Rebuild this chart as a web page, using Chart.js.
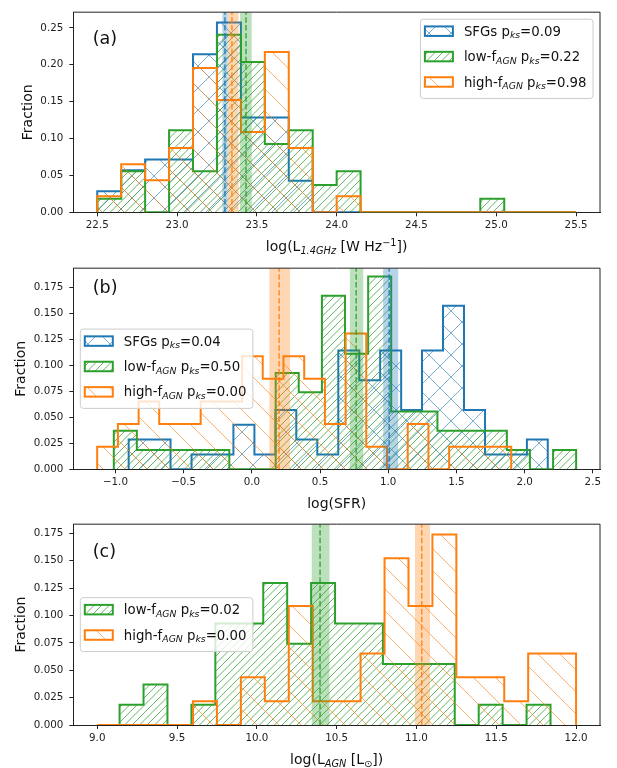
<!DOCTYPE html>
<html><head><meta charset="utf-8">
<script src="https://cdn.jsdelivr.net/npm/chart.js@4.4.1/dist/chart.umd.min.js"></script>
<style>
html,body{margin:0;padding:0;background:#fff;}
#wrap{position:relative;width:617px;height:768px;overflow:hidden;}
.pc{position:absolute;left:0;width:617px;height:256px;}
</style></head><body>
<div id="wrap">
<div class="pc" style="top:0px"><canvas id="ca"></canvas></div>
<div class="pc" style="top:256px"><canvas id="cb"></canvas></div>
<div class="pc" style="top:512px"><canvas id="cc"></canvas></div>
</div>
<script>
// ================= DATA =================
// Panel (a): log(L1.4GHz) distributions (fraction per bin)
const aEdges = [22.50,22.65,22.80,22.95,23.10,23.25,23.40,23.55,23.70,23.85,24.00,24.15,24.30,24.45,24.60,24.75,24.90,25.05,25.20,25.35,25.50];
const aSFG  = [0.0286,0.0571,0.0714,0.0714,0.2143,0.2571,0.1286,0.1286,0.0429,0,0,0,0,0,0,0,0,0,0,0];
const aLow  = [0.0185,0.0556,0,0.1111,0.0556,0.2407,0.2037,0.0926,0.1111,0.0370,0.0556,0,0,0,0,0,0.0185,0,0,0];
const aHigh = [0.0217,0.0652,0.0435,0.0870,0.1957,0.1522,0.1087,0.2174,0.0870,0,0.0217,0,0,0,0,0,0,0,0,0];
const aMedian = [23.300, 23.432, 23.344];   // SFGs, low-fAGN, high-fAGN
const aMedLo  = [23.284, 23.395, 23.318];
const aMedHi  = [23.317, 23.468, 23.385];
const aPks = ['0.09','0.22','0.98'];
const aXTicks = ['22.5','23.0','23.5','24.0','24.5','25.0','25.5'];
const aYTicks = ['0.00','0.05','0.10','0.15','0.20','0.25'];

// Panel (b): log(SFR)
const bEdgesSFG  = [-0.903,-0.749,-0.596,-0.442,-0.288,-0.135,0.019,0.173,0.326,0.480,0.634,0.788,0.941,1.095,1.248,1.402,1.556,1.710,1.863,2.017,2.170];
const bEdgesLow  = [-1.012,-0.843,-0.673,-0.504,-0.334,-0.165,0.005,0.175,0.344,0.514,0.683,0.853,1.022,1.192,1.361,1.531,1.700,1.870,2.039,2.209,2.378];
const bEdgesHigh = [-1.134,-0.982,-0.830,-0.679,-0.527,-0.375,-0.223,-0.071,0.080,0.232,0.384,0.536,0.688,0.839,0.991,1.143,1.295,1.447,1.598,1.750,1.902];
const bSFG  = [0.0286,0.0286,0,0.0143,0.0143,0.0429,0.0143,0.0571,0.0286,0.0143,0.1143,0.0857,0.1143,0.0571,0.1143,0.1571,0.0571,0.0143,0.0143,0.0286];
const bLow  = [0.0370,0.0185,0.0185,0.0185,0.0185,0,0,0.0926,0.0741,0.1667,0.1111,0.1852,0.0556,0.0556,0.0370,0.0370,0.0370,0.0185,0,0.0185];
const bHigh = [0.0217,0.0435,0.0652,0.0435,0.0435,0.0652,0.0652,0.1087,0.0870,0.1087,0.0870,0.0435,0.1304,0.0217,0,0.0435,0,0.0217,0.0217,0.0217];
const bMedian = [1.007, 0.765, 0.200];
const bMedLo  = [0.963, 0.719, 0.129];
const bMedHi  = [1.073, 0.817, 0.280];
const bPks = ['0.04','0.50','0.00'];
const bXTicks = ['\u22121.0','\u22120.5','0.0','0.5','1.0','1.5','2.0','2.5'];
const bYTicks = ['0.000','0.025','0.050','0.075','0.100','0.125','0.150','0.175'];

// Panel (c): log(L_AGN)
const cEdgesLow  = [9.14,9.29,9.44,9.59,9.74,9.89,10.04,10.19,10.34,10.49,10.64,10.79,10.94,11.09,11.24,11.39,11.54,11.69,11.84];
const cEdgesHigh = [9.00,9.15,9.30,9.45,9.60,9.75,9.90,10.05,10.20,10.35,10.50,10.65,10.80,10.95,11.10,11.25,11.40,11.55,11.70,11.85,12.00];
const cLow  = [0.0185,0.0370,0,0.0185,0.0926,0.0926,0.1296,0.0741,0.1296,0.0926,0.0926,0.0556,0.0556,0.0556,0,0.0185,0,0.0185];
const cHigh = [0,0,0,0,0.0217,0,0.0435,0.0217,0.1087,0.0217,0.0217,0.0652,0.1522,0.1087,0.1739,0.0435,0.0435,0.0217,0.0652,0.0652];
const cMedian = [10.396, 11.033];   // low-fAGN, high-fAGN
const cMedLo  = [10.344, 10.991];
const cMedHi  = [10.455, 11.085];
const cPks = ['0.02','0.00'];
const cXTicks = ['9.0','9.5','10.0','10.5','11.0','11.5','12.0'];
const cYTicks = ['0.000','0.025','0.050','0.075','0.100','0.125','0.150','0.175'];

// ================= STYLE / HELPERS =================
const FONT = '"DejaVu Sans", "Liberation Sans", sans-serif';
const C_BLUE = [31,119,180], C_GREEN = [44,160,44], C_ORANGE = [255,127,14];
const rgba = (c,a)=>`rgba(${c[0]},${c[1]},${c[2]},${a})`;
Chart.defaults.font.family = FONT;

function makePattern(ctx, kind, color, d, T){
  const cv = document.createElement('canvas'); cv.width = T; cv.height = T;
  const g = cv.getContext('2d'); g.strokeStyle = color; g.lineWidth = 1;
  g.beginPath();
  if (kind === '/' || kind === 'x'){
    for (let k = -3; k*d <= 3*T; k++){ const cc = k*d; g.moveTo(cc+T,-T); g.lineTo(cc-2*T,2*T); }
  }
  if (kind === '\\' || kind === 'x'){
    for (let k = Math.floor(-3*T/d); k*d <= 3*T; k++){ const cc = k*d; g.moveTo(cc-T,-T); g.lineTo(cc+2*T,2*T); }
  }
  g.stroke();
  return ctx.createPattern(cv, 'repeat');
}
function patterns(ctx){
  return {
    blue:   makePattern(ctx, 'x',  rgba(C_BLUE,0.6), 22, 22),
    green:  makePattern(ctx, '/',  rgba(C_GREEN,0.75), 7.5, 15),
    orange: makePattern(ctx, '\\', rgba(C_ORANGE,0.6), 22, 22)
  };
}
function stepPoints(edges, vals){
  const p = [{x: edges[0], y: 0}];
  vals.forEach((v,i)=>p.push({x: edges[i], y: v}));
  p.push({x: edges[edges.length-1], y: 0});
  return p;
}
function histDataset(edges, vals, col, pat, order){
  return {data: stepPoints(edges, vals), stepped: 'before', fill: 'origin',
    backgroundColor: pat, borderColor: rgba(col,1), borderWidth: 2, pointRadius: 0,
    pointHoverRadius: 0, tension: 0, order: order, borderJoinStyle: 'miter'};
}
function fontFor(seg, size){
  const small = seg[1] === 'sub' || seg[1] === 'sup';
  const it = seg[1] === 'sub';
  return (it ? 'italic ' : '') + (small ? size*0.7 : size) + 'px ' + FONT;
}
function drawRich(ctx, segs, x, baseY, size, align){
  let total = 0;
  segs.forEach(s=>{ ctx.font = fontFor(s,size); total += ctx.measureText(s[0]).width; });
  let cx = align === 'center' ? x - total/2 : x;
  ctx.textAlign = 'left'; ctx.textBaseline = 'alphabetic';
  segs.forEach(s=>{
    ctx.font = fontFor(s,size);
    const dy = s[1] === 'sub' ? size*0.2 : (s[1] === 'sup' ? -size*0.4 : 0);
    ctx.fillText(s[0], cx, baseY + dy);
    cx += ctx.measureText(s[0]).width;
  });
}
const lowLabel  = p => [['low-f',''],['AGN','sub'],[' p',''],['ks','sub'],['='+p,'']];
const highLabel = p => [['high-f',''],['AGN','sub'],[' p',''],['ks','sub'],['='+p,'']];
const sfgLabel  = p => [['SFGs p',''],['ks','sub'],['='+p,'']];

const decor = {
  id: 'decor',
  afterDatasetsDraw(chart){
    const o = chart.options.plugins.decor, ctx = chart.ctx, ca = chart.chartArea, xs = chart.scales.x;
    ctx.save();
    ctx.beginPath(); ctx.rect(ca.left, ca.top, ca.right-ca.left, ca.bottom-ca.top); ctx.clip();
    o.bands.forEach(b=>{
      const x0 = xs.getPixelForValue(b.lo), x1 = xs.getPixelForValue(b.hi), xm = xs.getPixelForValue(b.med);
      ctx.fillStyle = rgba(b.col, 0.32); ctx.fillRect(x0, ca.top, x1-x0, ca.bottom-ca.top);
      ctx.strokeStyle = rgba(b.col, 0.85); ctx.lineWidth = 1.5; ctx.setLineDash([5.5,2.4]);
      ctx.beginPath(); ctx.moveTo(xm, ca.bottom); ctx.lineTo(xm, ca.top); ctx.stroke();
      ctx.setLineDash([]);
    });
    ctx.restore();
  },
  afterDraw(chart){
    const o = chart.options.plugins.decor, ctx = chart.ctx, ca = chart.chartArea;
    ctx.save();
    // top & right spines
    ctx.strokeStyle = '#222'; ctx.lineWidth = 1;
    ctx.beginPath(); ctx.moveTo(ca.left, ca.top); ctx.lineTo(ca.right, ca.top); ctx.lineTo(ca.right, ca.bottom); ctx.stroke();
    ctx.fillStyle = '#111';
    // panel label
    ctx.font = '17.5px ' + FONT; ctx.textAlign = 'left'; ctx.textBaseline = 'middle';
    ctx.fillText(o.panel, ca.left + 19.4, ca.top + o.panelDy);
    // y title
    ctx.save(); ctx.translate(o.yTitleX, (ca.top+ca.bottom)/2); ctx.rotate(-Math.PI/2);
    ctx.font = '14px ' + FONT; ctx.textAlign = 'center'; ctx.textBaseline = 'middle';
    ctx.fillText('Fraction', 0, 0); ctx.restore();
    // x title
    drawRich(ctx, o.xTitle, (ca.left+ca.right)/2, ca.bottom + 39, 14, 'center');
    // legend
    const L = o.legend, n = L.rows.length, w = 172.6, h = 12 + (n-1)*25.4 + 16.5;
    let bx, by;
    if (L.anchor === 'ur'){ bx = ca.right - 7 - w; by = ca.top + 7; }
    else { bx = ca.left + 7; by = (ca.top+ca.bottom)/2 - h/2; }
    ctx.beginPath();
    if (ctx.roundRect) ctx.roundRect(bx, by, w, h, 3); else ctx.rect(bx, by, w, h);
    ctx.fillStyle = 'rgba(255,255,255,0.8)'; ctx.fill();
    ctx.strokeStyle = '#cccccc'; ctx.lineWidth = 1; ctx.stroke();
    L.rows.forEach((r,i)=>{
      const ry = by + 12 + i*25.4;
      ctx.fillStyle = r.pat; ctx.fillRect(bx+4.5, ry-4.75, 28, 9.5);
      ctx.strokeStyle = rgba(r.col,1); ctx.lineWidth = 2; ctx.strokeRect(bx+4.5, ry-4.75, 28, 9.5);
      ctx.fillStyle = '#111';
      drawRich(ctx, r.segs, bx + 43.5, ry + 4.6, 13.3, 'left');
    });
    ctx.restore();
  }
};

function tickVals(labels){ return labels.map(s=>parseFloat(s.replace('\u2212','-'))); }

function makeChart(id, cfg){
  const canvas = document.getElementById(id);
  const ctx = canvas.getContext('2d');
  const P = patterns(ctx);
  const datasets = cfg.series.map(s=>histDataset(s.edges, s.vals, s.col, P[s.pat], s.order));
  const xv = tickVals(cfg.xTicks), yv = tickVals(cfg.yTicks);
  const rows = cfg.legend.map(r=>({col: r.col, pat: P[r.pat], segs: r.segs}));
  return new Chart(ctx, {
    type: 'line',
    data: {datasets},
    options: {
      responsive: true, maintainAspectRatio: false, animation: false, devicePixelRatio: 1,
      layout: {padding: {left: 0, right: 17, top: cfg.padTop, bottom: 0}},
      events: [],
      plugins: {legend: {display: false}, tooltip: {enabled: false},
        decor: {panel: cfg.panel, panelDy: cfg.panelDy, yTitleX: cfg.yTitleX, xTitle: cfg.xTitle,
          bands: cfg.bands, legend: {anchor: cfg.legendAnchor, rows}}},
      scales: {
        x: {type: 'linear', min: cfg.xMin, max: cfg.xMax,
          afterBuildTicks: ax=>{ ax.ticks = xv.map(v=>({value: v})); },
          afterFit: s=>{ s.height = cfg.xAxisH; },
          ticks: {callback: (v,i)=>cfg.xTicks[i], autoSkip: false, maxRotation: 0, color: '#222',
            font: {size: 10.3, family: FONT}, padding: 3},
          grid: {drawOnChartArea: false, drawTicks: true, tickLength: 4, color: '#222', tickColor: '#222'},
          border: {display: true, color: '#222', width: 1}},
        y: {type: 'linear', min: 0, max: cfg.yMax,
          afterBuildTicks: ax=>{ ax.ticks = yv.map(v=>({value: v})); },
          afterFit: s=>{ s.width = 73.3; },
          ticks: {callback: (v,i)=>cfg.yTicks[i], autoSkip: false, color: '#222',
            font: {size: 10.3, family: FONT}, padding: 6},
          grid: {drawOnChartArea: false, drawTicks: true, tickLength: 4, color: '#222', tickColor: '#222'},
          border: {display: true, color: '#222', width: 1}}
      }
    },
    plugins: [decor]
  });
}

// ---- Panel (a)
makeChart('ca', {
  panel: '(a)', panelDy: 27.7, yTitleX: 28.3, padTop: 7.3, xAxisH: 43.7,
  xMin: 22.35, xMax: 25.65, yMax: 0.2712, xTicks: aXTicks, yTicks: aYTicks,
  xTitle: [['log(L',''],['1.4GHz','sub'],[' [W Hz',''],['\u22121','sup'],['])','']],
  series: [
    {edges: aEdges, vals: aSFG,  col: C_BLUE,   pat: 'blue',   order: 3},
    {edges: aEdges, vals: aLow,  col: C_GREEN,  pat: 'green',  order: 2},
    {edges: aEdges, vals: aHigh, col: C_ORANGE, pat: 'orange', order: 1}],
  bands: [
    {med: aMedian[0], lo: aMedLo[0], hi: aMedHi[0], col: C_BLUE},
    {med: aMedian[2], lo: aMedLo[2], hi: aMedHi[2], col: C_ORANGE},
    {med: aMedian[1], lo: aMedLo[1], hi: aMedHi[1], col: C_GREEN}],
  legendAnchor: 'ur',
  legend: [
    {col: C_BLUE, pat: 'blue', segs: sfgLabel(aPks[0])},
    {col: C_GREEN, pat: 'green', segs: lowLabel(aPks[1])},
    {col: C_ORANGE, pat: 'orange', segs: highLabel(aPks[2])}]
});

// ---- Panel (b)
makeChart('cb', {
  panel: '(b)', panelDy: 20, yTitleX: 21, padTop: 9, xAxisH: 42.7,
  xMin: -1.309, xMax: 2.553, yMax: 0.1933, xTicks: bXTicks, yTicks: bYTicks,
  xTitle: [['log(SFR)','']],
  series: [
    {edges: bEdgesSFG,  vals: bSFG,  col: C_BLUE,   pat: 'blue',   order: 3},
    {edges: bEdgesLow,  vals: bLow,  col: C_GREEN,  pat: 'green',  order: 2},
    {edges: bEdgesHigh, vals: bHigh, col: C_ORANGE, pat: 'orange', order: 1}],
  bands: [
    {med: bMedian[0], lo: bMedLo[0], hi: bMedHi[0], col: C_BLUE},
    {med: bMedian[1], lo: bMedLo[1], hi: bMedHi[1], col: C_GREEN},
    {med: bMedian[2], lo: bMedLo[2], hi: bMedHi[2], col: C_ORANGE}],
  legendAnchor: 'cl',
  legend: [
    {col: C_BLUE, pat: 'blue', segs: sfgLabel(bPks[0])},
    {col: C_GREEN, pat: 'green', segs: lowLabel(bPks[1])},
    {col: C_ORANGE, pat: 'orange', segs: highLabel(bPks[2])}]
});

// ---- Panel (c)
makeChart('cc', {
  panel: '(c)', panelDy: 28, yTitleX: 21, padTop: 8, xAxisH: 43,
  xMin: 8.85, xMax: 12.15, yMax: 0.1833, xTicks: cXTicks, yTicks: cYTicks,
  xTitle: [['log(L',''],['AGN','sub'],[' [L',''],['\u2299','sub'],['])','']],
  series: [
    {edges: cEdgesLow,  vals: cLow,  col: C_GREEN,  pat: 'green',  order: 2},
    {edges: cEdgesHigh, vals: cHigh, col: C_ORANGE, pat: 'orange', order: 1}],
  bands: [
    {med: cMedian[0], lo: cMedLo[0], hi: cMedHi[0], col: C_GREEN},
    {med: cMedian[1], lo: cMedLo[1], hi: cMedHi[1], col: C_ORANGE}],
  legendAnchor: 'cl',
  legend: [
    {col: C_GREEN, pat: 'green', segs: lowLabel(cPks[0])},
    {col: C_ORANGE, pat: 'orange', segs: highLabel(cPks[1])}]
});
</script>
</body></html>
